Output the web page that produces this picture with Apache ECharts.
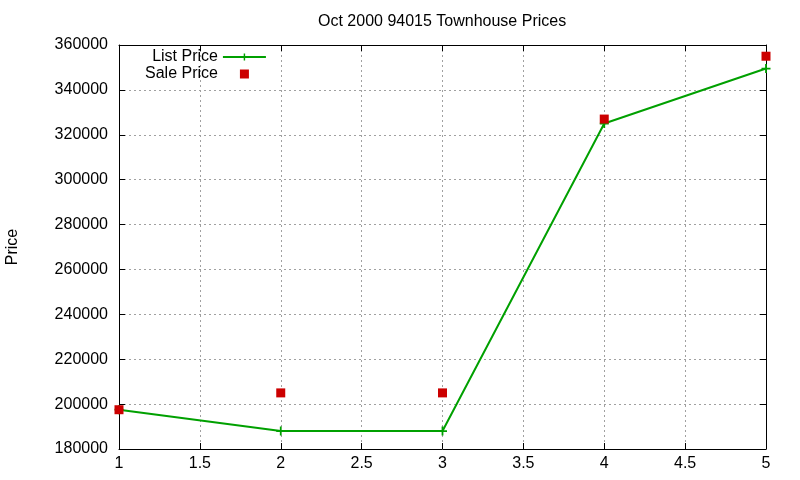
<!DOCTYPE html>
<html><head><meta charset="utf-8">
<script src="https://cdn.jsdelivr.net/npm/echarts@6/dist/echarts.min.js"></script>
<style>html,body{margin:0;padding:0;background:#fff}#c{width:800px;height:480px}</style>
</head><body><div id="c"></div>
<script>
const xValues = [1, 2, 3, 4, 5];
const listPrice = [197500, 188000, 188000, 325000, 349500];
const salePrice = [197500, 205000, 205000, 327000, 355000];
const titleText = 'Oct 2000 94015 Townhouse Prices';
const yLabel = 'Price';

const font = 'Liberation Sans, Arial, sans-serif';
const chart = echarts.init(document.getElementById('c'));
const gridLine = {show: true, lineStyle: {color: '#a0a0a0', type: [2, 3], width: 1}};
const axLine = {show: true, lineStyle: {color: '#000', width: 1}};
const tick = {show: true, inside: true, length: 6, lineStyle: {color: '#000'}};
const plus = 'path://M4,0H6V4H10V6H6V10H4V6H0V4H4Z';
chart.setOption({
  animation: false,
  title: {text: titleText, left: 313, top: 9,
    textStyle: {fontFamily: font, fontSize: 16, fontWeight: 'normal', color: '#000'}},
  grid: {left: 119, right: 34, top: 45, bottom: 31, containLabel: false, outerBoundsMode: 'none'},
  legend: {
    orient: 'vertical', left: 140, top: 44, align: 'right', itemGap: 1,
    itemWidth: 43, itemHeight: 9, itemTextGap: 10,
    textStyle: {fontFamily: font, fontSize: 16, color: '#000'},
    data: [{name: 'List Price'}, {name: 'Sale Price', icon: 'path://M0,0H1V1H0Z'}]
  },
  xAxis: [
    {type: 'value', min: 1, max: 5, interval: 0.5, axisLine: axLine, axisTick: tick,
     splitLine: gridLine,
     axisLabel: {fontFamily: font, fontSize: 16, color: '#000', margin: 7}},
    {type: 'value', position: 'top', min: 1, max: 5, interval: 0.5, axisLine: axLine,
     axisTick: tick, axisLabel: {show: false}, splitLine: {show: false}}
  ],
  yAxis: [
    {type: 'value', min: 180000, max: 360000, interval: 20000, axisLine: axLine, axisTick: tick,
     splitLine: gridLine, name: yLabel, nameLocation: 'middle', nameGap: 98, nameRotate: 90,
     nameTextStyle: {fontFamily: font, fontSize: 16, color: '#000'},
     axisLabel: {fontFamily: font, fontSize: 16, color: '#000', margin: 11, formatter: v => String(v)}},
    {type: 'value', position: 'right', min: 180000, max: 360000, interval: 20000,
     axisLine: axLine, axisTick: tick, axisLabel: {show: false}, splitLine: {show: false}}
  ],
  series: [
    {name: 'List Price', type: 'line', data: xValues.map((x, i) => [x, listPrice[i]]),
     symbol: plus, symbolSize: 9, showAllSymbol: true,
     lineStyle: {color: '#00a000', width: 2}, itemStyle: {color: '#00a000'}, z: 2},
    {name: 'Sale Price', type: 'scatter', data: xValues.map((x, i) => [x, salePrice[i]]),
     symbol: 'rect', symbolSize: 9, itemStyle: {color: '#cc0000', opacity: 1}, z: 3}
  ]
});
</script></body></html>
